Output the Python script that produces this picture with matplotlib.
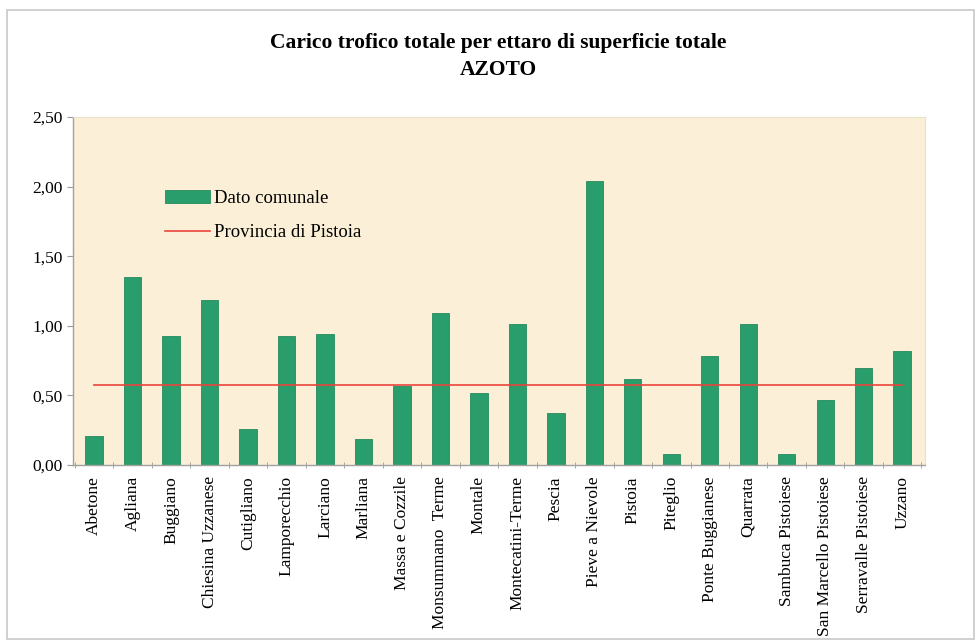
import matplotlib
matplotlib.use("Agg")
import matplotlib.pyplot as plt
from matplotlib.patches import Rectangle
import numpy as np

comuni = ["Abetone", "Agliana", "Buggiano", "Chiesina Uzzanese", "Cutigliano",
          "Lamporecchio", "Larciano", "Marliana", "Massa e Cozzile", "Monsummano  Terme",
          "Montale", "Montecatini-Terme", "Pescia", "Pieve a Nievole", "Pistoia",
          "Piteglio", "Ponte Buggianese", "Quarrata", "Sambuca Pistoiese",
          "San Marcello Pistoiese", "Serravalle Pistoiese", "Uzzano"]
dato_comunale = [0.21, 1.35, 0.93, 1.185, 0.26, 0.93, 0.94, 0.19, 0.57, 1.09,
                 0.52, 1.01, 0.37, 2.04, 0.62, 0.08, 0.78, 1.01, 0.08, 0.47, 0.70, 0.82]
provincia = 0.575
yticks = [0.0, 0.5, 1.0, 1.5, 2.0, 2.5]

plt.rcParams['font.family'] = ['Liberation Serif', 'DejaVu Serif']

fig = plt.figure(figsize=(9.77, 6.42), dpi=100)
fig.patches.append(Rectangle((0.007, 0.004), 0.99, 0.98, transform=fig.transFigure,
                             fill=False, edgecolor='#c8c8c8', linewidth=1.2))
ax = fig.add_axes([0.0747, 0.2757, 0.8723, 0.5421])
ax.set_facecolor('#fbf0d7')

x = np.arange(len(comuni))
bars = ax.bar(x, dato_comunale, width=0.45, color='#2a9d6c', edgecolor='#258a5e',
              linewidth=0.6, label='Dato comunale', zorder=2)
line, = ax.plot(x, [provincia] * len(x), color='#e8453c', linewidth=1.2,
                label='Provincia di Pistoia', zorder=3)

ax.set_xlim(-0.55, 21.6)
ax.set_ylim(0, 2.5)
ax.set_yticks(yticks)
ax.set_yticklabels([f"{v:.2f}".replace('.', ',') for v in yticks], fontsize=12.5)
ax.set_xticks(x)
ax.set_xticklabels(comuni, rotation=90, fontsize=12.5)
ax.tick_params(axis='x', length=0, pad=8)
ax.set_xticks(np.arange(-0.5, len(comuni), 1.0), minor=True)
ax.tick_params(axis='x', which='minor', length=4, color='#999999', direction='inout')
ax.tick_params(axis='y', length=4, color='#999999', direction='out')

for s in ['top', 'right']:
    ax.spines[s].set_color('#e8e0c8')
    ax.spines[s].set_linewidth(0.8)
for s in ['left', 'bottom']:
    ax.spines[s].set_color('#a0a0a0')
    ax.spines[s].set_linewidth(1.0)

leg = ax.legend([bars, line], ['Dato comunale', 'Provincia di Pistoia'],
                loc='upper left', bbox_to_anchor=(0.088, 0.838), frameon=False,
                fontsize=13.5, handlelength=2.4, handletextpad=0.2, labelspacing=0.9)

fig.text(0.51, 0.933, "Carico trofico totale per ettaro di superficie totale",
         ha='center', va='center', fontsize=15.5, fontweight='bold')
fig.text(0.51, 0.891, "AZOTO", ha='center', va='center', fontsize=15.5, fontweight='bold')

fig.savefig("out.png", dpi=100)
